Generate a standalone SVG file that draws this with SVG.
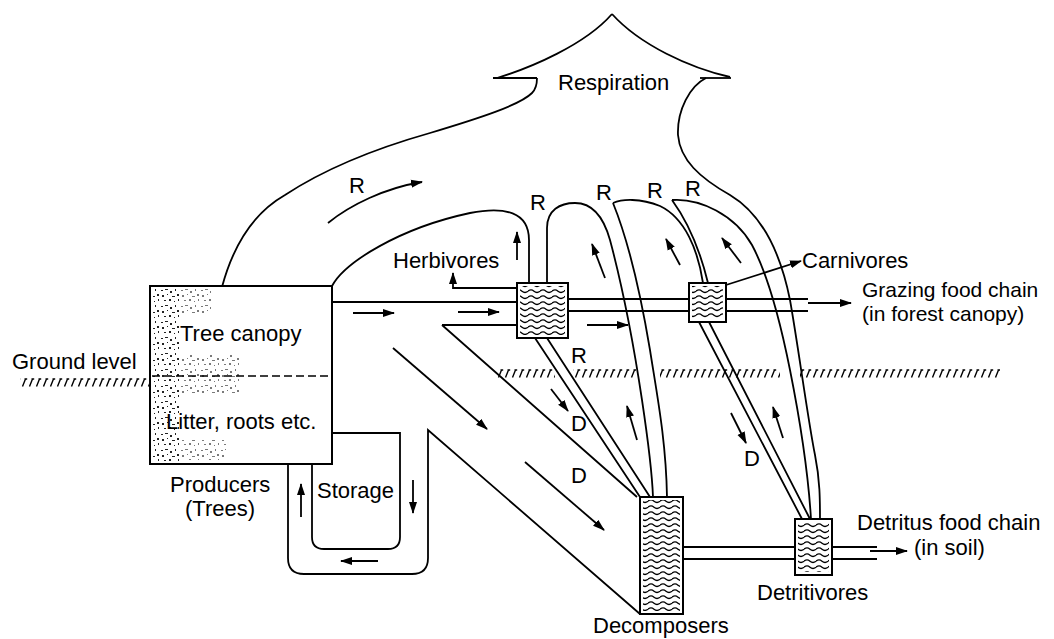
<svg xmlns="http://www.w3.org/2000/svg" width="1054" height="639" viewBox="0 0 1054 639">
<defs>
<marker id="ah" markerUnits="userSpaceOnUse" markerWidth="12" markerHeight="10" refX="11" refY="5" orient="auto"><path d="M0,1 L12,5 L0,9 z" fill="#000"/></marker>
<pattern id="wave" patternUnits="userSpaceOnUse" width="12" height="6"><path d="M0,3.2 Q3,0.6 6,3.2 T12,3.2" fill="none" stroke="#000" stroke-width="1.3"/></pattern>
<pattern id="hatch" patternUnits="userSpaceOnUse" width="7" height="9"><path d="M1.5,8.5 L4.5,1 M3.5,1 L6.2,1" stroke="#000" stroke-width="1.4" fill="none"/></pattern>
<pattern id="speck" patternUnits="userSpaceOnUse" width="20" height="16">
<g fill="#222"><rect x="1" y="2" width="2" height="1"/><rect x="5" y="1" width="3" height="1"/><rect x="10" y="3" width="2" height="2"/><rect x="15" y="1" width="1" height="2"/><rect x="2" y="7" width="2" height="2"/><rect x="7" y="6" width="1" height="1"/><rect x="12" y="8" width="3" height="1"/><rect x="17" y="6" width="2" height="2"/><rect x="4" y="12" width="2" height="1"/><rect x="9" y="11" width="2" height="2"/><rect x="14" y="13" width="1" height="1"/><rect x="18" y="11" width="1" height="2"/></g>
</pattern>
</defs>
<style>
.l{fill:none;stroke:#000;stroke-width:1.8}
.a{fill:none;stroke:#000;stroke-width:1.8;marker-end:url(#ah)}
.t{font-family:"Liberation Sans",Arial,sans-serif;font-size:22px;fill:#000}
.s{font-size:21px}
.bx{fill:#fff;stroke:#000;stroke-width:2}
.wv{fill:url(#wave)}
.fr{fill:none;stroke:#000;stroke-width:2}
</style>
<rect width="1054" height="639" fill="#fff"/>

<g id="ground">
<text class="t" x="12" y="369">Ground level</text>
<g transform="translate(0,378)"><rect x="20" y="0" width="130" height="9" fill="url(#hatch)"/></g>
<g transform="translate(0,369)">
<rect x="497" y="0" width="58" height="9" fill="url(#hatch)"/>
<rect x="573" y="0" width="63" height="9" fill="url(#hatch)"/>
<rect x="660" y="0" width="120" height="9" fill="url(#hatch)"/>
<rect x="800" y="0" width="200" height="9" fill="url(#hatch)"/>
</g>
</g>

<g id="connectors">
<path class="l" d="M222,287 C232,250 250,215 285,195 C320,172 370,150 430,133 C480,118 520,105 532,93 C537,88 537,82 537,78"/>
<path class="l" d="M493,78 L537,78"/>
<path class="l" d="M497,78 C530,68 585,45 612,14"/>
<path class="l" d="M612,14 C640,45 690,68 730,77"/>
<path class="l" d="M700,78 L731,78"/>
<path class="l" d="M706,78 C690,86 677,110 678,135 C680,160 700,178 730,195 C760,213 780,250 790,300 C798,345 808,420 815,455 C820,480 820,500 820,519"/>
<path class="l" d="M672,200 C700,198 735,215 752,245 C768,275 780,320 790,370 C800,420 808,470 811,519"/>
<path class="l" d="M672,200 C688,222 700,250 708,283"/>
<path class="l" d="M613,203 C622,199 640,198 660,206 C685,218 698,250 703,283"/>
<path class="l" d="M613,203 C628,240 640,290 650,350 C657,395 666,440 667,497"/>
<path class="l" d="M547,283 L547,228 C547,210 560,203 575,203 C592,203 603,215 610,240 C622,285 633,340 642,400 C648,440 652,470 653,497"/>
<path class="l" d="M332,286 C345,262 400,228 470,213 C505,206 529,212 529,240 L529,283"/>
<path class="l" d="M332,302 L517,302 M442,325 L517,325 M442,325 L637,497"/>
<path class="l" d="M288,464 L288,558 Q288,574 304,574 L412,574 Q428,574 428,558 L428,430 L640,614"/>
<path class="l" d="M312,464 L312,537 Q312,549 324,549 L388,549 Q400,549 400,537 L400,433 L333,433"/>
<path class="l" d="M568,299 L689,299 M568,311 L689,311 M726,299 L808,299 M726,311 L808,311"/>
<path class="l" d="M535,338 L640,497 M547,338 L650,497"/>
<path class="l" d="M699,322 L802,519 M709,322 L810,519"/>
<path class="l" d="M683,547 L795,547 M683,559 L795,559 M832,547 L877,547 M832,559 L877,559"/>
<path class="a" d="M517,288 L453,288 L453,273"/>
<path class="a" d="M726,285 L801,261"/>
<path class="a" d="M328,223 C350,205 385,188 422,182"/>
<path class="a" d="M517,260 L517,232"/>
<path class="a" d="M353,313 L394,313"/>
<path class="a" d="M458,312 L499,312"/>
<path class="a" d="M587,325 L628,325"/>
<path class="a" d="M393,348 L487,429"/>
<path class="a" d="M525,462 L604,530"/>
<path class="a" d="M808,303 L851,303"/>
<path class="a" d="M870,551 L907,551"/>
<path class="a" d="M301,517 L301,484"/>
<path class="a" d="M413,480 L413,513"/>
<path class="a" d="M378,561 L341,561"/>
<path class="a" d="M605,278 L592,244"/>
<path class="a" d="M680,265 L666,239"/>
<path class="a" d="M741,263 L722,238"/>
<path class="a" d="M551,389 L568,411"/>
<path class="a" d="M731,413 L746,443"/>
<path class="a" d="M637,440 L627,406"/>
<path class="a" d="M783,438 L773,407"/>
</g>

<g id="respiration">
<text class="t" x="558" y="90">Respiration</text>
</g>

<g id="labels-r-d">
<text class="t" x="349" y="193">R</text>
<text class="t" x="530" y="210">R</text>
<text class="t" x="596" y="200">R</text>
<text class="t" x="647" y="198">R</text>
<text class="t" x="685" y="196">R</text>
<text class="t" x="571" y="363">R</text>
<text class="t" x="571" y="431">D</text>
<text class="t" x="571" y="483">D</text>
<text class="t" x="744" y="466">D</text>
</g>

<g id="producers">
<rect class="bx" x="150" y="286" width="182" height="178"/>
<rect x="153" y="289" width="28" height="172" fill="url(#speck)"/>
<rect x="181" y="355" width="60" height="38" fill="url(#speck)" opacity="0.6"/>
<rect x="181" y="440" width="45" height="20" fill="url(#speck)" opacity="0.6"/>
<rect x="181" y="289" width="30" height="24" fill="url(#speck)" opacity="0.6"/>
<line x1="152" y1="376" x2="330" y2="376" stroke="#000" stroke-width="1.6" stroke-dasharray="8,4"/>
<text class="t" x="180" y="341">Tree canopy</text>
<text class="t" x="166" y="429">Litter, roots etc.</text>
<text class="t" x="170" y="492">Producers</text>
<text class="t" x="185" y="516">(Trees)</text>
</g>

<g id="storage">
<text class="t" x="317" y="498">Storage</text>
</g>

<g id="herbivores">
<rect class="bx" x="517" y="283" width="51" height="55"/>
<rect class="wv" x="520" y="286" width="45" height="49"/>
<rect class="fr" x="517" y="283" width="51" height="55"/>
<text class="t" x="393" y="268">Herbivores</text>
</g>

<g id="carnivores">
<rect class="bx" x="689" y="283" width="37" height="39"/>
<rect class="wv" x="692" y="286" width="31" height="33"/>
<rect class="fr" x="689" y="283" width="37" height="39"/>
<text class="t" x="802" y="268">Carnivores</text>
</g>

<g id="grazing">
<text class="t s" x="862" y="297">Grazing food chain</text>
<text class="t s" x="862" y="321">(in forest canopy)</text>
</g>

<g id="decomposers">
<rect class="bx" x="640" y="497" width="43" height="117"/>
<rect class="wv" x="643" y="500" width="37" height="111"/>
<rect class="fr" x="640" y="497" width="43" height="117"/>
<text class="t" x="593" y="633">Decomposers</text>
</g>

<g id="detritivores">
<rect class="bx" x="795" y="519" width="37" height="56"/>
<rect class="wv" x="798" y="522" width="31" height="50"/>
<rect class="fr" x="795" y="519" width="37" height="56"/>
<text class="t" x="757" y="600">Detritivores</text>
</g>

<g id="detritus">
<text class="t" x="857" y="530">Detritus food chain</text>
<text class="t" x="914" y="555">(in soil)</text>
</g>
</svg>
